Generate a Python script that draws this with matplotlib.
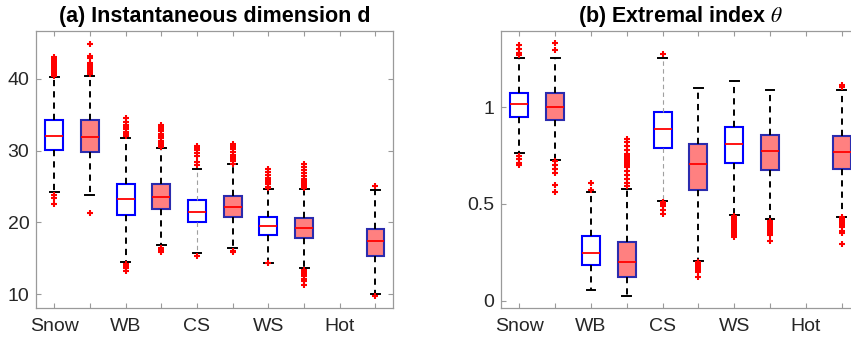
import matplotlib
matplotlib.use("Agg")
import matplotlib.pyplot as plt
from matplotlib.ticker import FixedLocator

plt.rcParams['font.family'] = ['Liberation Sans', 'DejaVu Sans']
plt.rcParams['mathtext.fontset'] = 'stix'

groups = ['Snow', 'WB', 'CS', 'WS', 'Hot']

# ---- Panel (a): instantaneous dimension d ----
# open (white) boxes; None = no data
a_open_q1  = [30.1, 21.0, 20.1, 18.2, None]
a_open_med = [32.1, 23.2, 21.5, 19.5, None]
a_open_q3  = [34.3, 25.4, 23.1, 20.8, None]
a_open_lo  = [24.2, 14.5, 15.7, 14.4, None]
a_open_hi  = [40.2, 31.8, 27.4, 24.6, None]
a_open_fl  = [
    [40.4, 40.7, 41.0, 41.2, 41.4, 41.6, 41.8, 42.0, 42.2, 42.5, 42.8, 43.0, 23.8, 23.4, 22.6],
    [32.0, 32.3, 32.6, 33.0, 33.3, 33.6, 34.0, 34.5, 14.2, 14.0, 13.8, 13.6, 13.3],
    [28.0, 28.4, 29.3, 29.7, 30.1, 30.4, 30.7, 15.4],
    [24.8, 25.0, 25.3, 25.6, 25.9, 26.2, 26.6, 27.0, 27.4, 14.3],
    None,
]
# filled (red) boxes
a_fill_q1  = [29.8, 21.9, 20.7, 17.8, 15.4]
a_fill_med = [31.9, 23.6, 22.1, 19.2, 17.4]
a_fill_q3  = [34.2, 25.4, 23.7, 20.6, 19.1]
a_fill_lo  = [23.8, 16.9, 16.4, 13.7, 10.05]
a_fill_hi  = [40.4, 30.3, 28.1, 24.6, 24.5]
a_fill_fl  = [
    [40.7, 40.9, 41.1, 41.3, 41.5, 41.8, 42.0, 42.2, 42.9, 43.1, 44.9, 21.3],
    [30.5, 30.8, 31.1, 31.4, 31.7, 32.0, 32.3, 32.7, 33.0, 33.3, 33.6, 16.5, 16.2, 15.9],
    [28.2, 28.5, 28.8, 29.1, 29.4, 29.8, 30.2, 30.5, 30.7, 30.9, 16.1, 15.9],
    [24.8, 25.0, 25.2, 25.5, 25.8, 26.1, 26.5, 26.9, 27.3, 27.7, 28.1,
     13.4, 13.1, 12.8, 12.5, 12.2, 11.8, 11.3],
    [25.1, 9.8],
]

# ---- Panel (b): extremal index theta ----
b_open_q1  = [0.950, 0.183, 0.791, 0.713, None]
b_open_med = [1.014, 0.244, 0.888, 0.812, None]
b_open_q3  = [1.074, 0.335, 0.976, 0.898, None]
b_open_lo  = [0.763, 0.055, 0.515, 0.444, None]
b_open_hi  = [1.256, 0.563, 1.254, 1.136, None]
b_open_fl  = [
    [1.27, 1.28, 1.30, 1.32, 0.75, 0.73, 0.71, 0.70],
    [0.57, 0.61],
    [1.273, 0.51, 0.50, 0.49, 0.47, 0.45],
    [0.44, 0.43, 0.42, 0.41, 0.40, 0.39, 0.38, 0.37, 0.36, 0.35, 0.34, 0.33],
    None,
]
b_fill_q1  = [0.933, 0.123, 0.573, 0.675, 0.680]
b_fill_med = [1.000, 0.199, 0.705, 0.775, 0.768]
b_fill_q3  = [1.071, 0.302, 0.812, 0.855, 0.850]
b_fill_lo  = [0.727, 0.026, 0.207, 0.420, 0.434]
b_fill_hi  = [1.256, 0.577, 1.097, 1.088, 1.090]
b_fill_fl  = [
    [1.295, 1.333, 0.72, 0.70, 0.68, 0.66, 0.60, 0.56],
    [0.59, 0.61, 0.63, 0.65, 0.67, 0.69, 0.70, 0.71, 0.72, 0.73, 0.74,
     0.75, 0.76, 0.78, 0.80, 0.82, 0.835],
    [0.20, 0.19, 0.18, 0.17, 0.16, 0.15, 0.12],
    [0.41, 0.40, 0.39, 0.38, 0.37, 0.36, 0.35, 0.34, 0.31],
    [1.105, 1.115, 0.43, 0.42, 0.41, 0.40, 0.39, 0.38, 0.36, 0.35, 0.295],
]

a_yticks = [10, 20, 30, 40]
a_ytick_labels = ['10', '20', '30', '40']
b_yticks = [0, 0.5, 1]
b_ytick_labels = ['0', '0.5', '1']

BLUE = '#0000FF'
FILL = '#FF8080'
FILL_EDGE = '#2B2BAE'
AXCOL = '#9A9A9A'
TXT = '#262626'

fig = plt.figure(figsize=(8.51, 3.42), dpi=100)
ax_a = fig.add_axes([0.0427, 0.0994, 0.4195, 0.809])
ax_b = fig.add_axes([0.5893, 0.0994, 0.4207, 0.809])


def make_stats(q1, med, q3, lo, hi, fl):
    stats, idx = [], []
    for i in range(len(q1)):
        if q1[i] is None:
            continue
        stats.append(dict(q1=q1[i], med=med[i], q3=q3[i], whislo=lo[i],
                          whishi=hi[i], fliers=fl[i] if fl[i] else []))
        idx.append(i)
    return stats, idx


def draw(ax, oq1, omed, oq3, olo, ohi, ofl, fq1, fmed, fq3, flo, fhi, ffl,
         ylim, yticks, ylabels, title):
    common = dict(
        widths=0.5, patch_artist=True, showfliers=True,
        whiskerprops=dict(color='black', linewidth=1.4, linestyle=(0, (3.2, 2.6))),
        capprops=dict(color='black', linewidth=1.4),
        medianprops=dict(color='red', linewidth=1.3),
        flierprops=dict(marker='+', markeredgecolor='red', markersize=4.5,
                        markeredgewidth=1.5, linestyle='none'),
    )
    st, idx = make_stats(oq1, omed, oq3, olo, ohi, ofl)
    pos = [2 * i + 1 for i in idx]
    r1 = ax.bxp(st, positions=pos,
                boxprops=dict(facecolor='white', edgecolor=BLUE, linewidth=1.5),
                **common)
    # the CS open box has thin grey whiskers
    k = idx.index(2)
    for w in r1['whiskers'][2 * k:2 * k + 2]:
        w.set_color('#A0A0A0')
        w.set_linewidth(0.8)
        w.set_linestyle((0, (4, 3)))
    st, idx = make_stats(fq1, fmed, fq3, flo, fhi, ffl)
    pos = [2 * i + 2 for i in idx]
    ax.bxp(st, positions=pos,
           boxprops=dict(facecolor=FILL, edgecolor=FILL_EDGE, linewidth=1.5),
           **common)

    n = len(groups)
    ax.set_xlim(0.5, 2 * n + 0.5)
    ax.set_ylim(*ylim)
    ax.xaxis.set_major_locator(FixedLocator(list(range(1, 2 * n + 1))))
    labels = []
    for g in groups:
        labels += [g, '']
    ax.set_xticklabels(labels)
    ax.set_yticks(yticks)
    ax.set_yticklabels(ylabels)
    ax.tick_params(direction='in', length=3.5, width=0.8, color=AXCOL,
                   top=True, right=True, labelsize=14, labelcolor=TXT)
    ax.tick_params(axis='x', pad=7)
    ax.tick_params(axis='y', pad=5)
    for s in ax.spines.values():
        s.set_color(AXCOL)
        s.set_linewidth(0.9)
    ax.set_title(title, fontsize=15.5, fontweight='bold', color='black', pad=7)


draw(ax_a, a_open_q1, a_open_med, a_open_q3, a_open_lo, a_open_hi, a_open_fl,
     a_fill_q1, a_fill_med, a_fill_q3, a_fill_lo, a_fill_hi, a_fill_fl,
     (8.1, 46.6), a_yticks, a_ytick_labels, '(a) Instantaneous dimension d')
draw(ax_b, b_open_q1, b_open_med, b_open_q3, b_open_lo, b_open_hi, b_open_fl,
     b_fill_q1, b_fill_med, b_fill_q3, b_fill_lo, b_fill_hi, b_fill_fl,
     (-0.038, 1.392), b_yticks, b_ytick_labels, r'(b) Extremal index $\theta$')

fig.savefig('out.png', dpi=100)
